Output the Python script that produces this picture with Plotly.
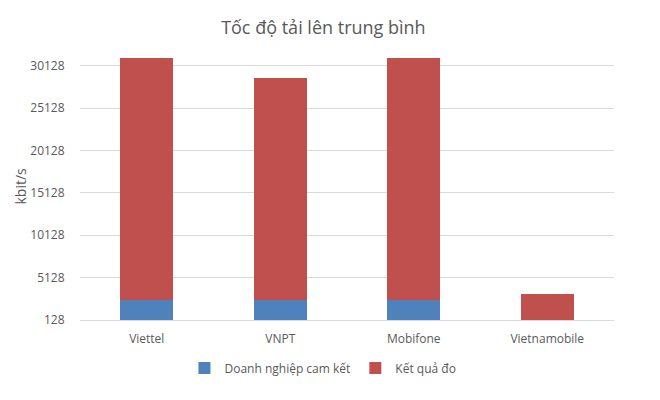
import plotly.graph_objects as go

categories = ["Viettel", "VNPT", "Mobifone", "Vietnamobile"]
committed = [2490, 2490, 2490, 0]
measured = [28580, 26150, 28580, 3200]
tick_vals = [128, 5128, 10128, 15128, 20128, 25128, 30128]

fig = go.Figure()
fig.add_trace(go.Bar(x=categories, y=committed, name="Doanh nghiệp cam kết",
                     marker=dict(color="#4F81BD", line=dict(width=0))))
fig.add_trace(go.Bar(x=categories, y=measured, name="Kết quả đo",
                     marker=dict(color="#C0504D", line=dict(width=0))))

font_fam = "Open Sans, Liberation Sans, sans-serif"
fig.update_layout(
    barmode="stack",
    bargap=0.6,
    width=660, height=400,
    margin=dict(l=80, r=46, t=53, b=80, autoexpand=False),
    plot_bgcolor="white", paper_bgcolor="white",
    font=dict(family=font_fam, color="#595959", size=12),
    title=dict(text="Tốc độ tải lên trung bình", x=0.49, xanchor="center",
               y=1 - 28 / 400, yref="container", yanchor="middle",
               font=dict(size=18, color="#595959")),
    legend=dict(orientation="h", x=0.455, xanchor="center",
                y=32 / 400, yref="container", yanchor="middle",
                traceorder="normal",
                font=dict(size=12, color="#595959"), itemwidth=30),
    showlegend=True,
    annotations=[dict(text="kbit/s", xref="paper", yref="paper",
                      x=(20 - 80) / 534, y=0.5, xanchor="center", yanchor="middle",
                      textangle=-90, showarrow=False,
                      font=dict(size=14, color="#595959"))],
)
fig.update_yaxes(range=[128, 31628], tickvals=tick_vals,
                 ticktext=[str(v) for v in tick_vals],
                 showgrid=True, gridcolor="#D9D9D9", gridwidth=1,
                 zeroline=False, showline=False,
                 ticks="outside", ticklen=12, tickcolor="rgba(0,0,0,0)",
                 automargin=False,
                 tickfont=dict(size=12, color="#595959"))
fig.update_xaxes(showline=True, linecolor="#D9D9D9", linewidth=1,
                 ticks="outside", ticklen=8, tickcolor="rgba(0,0,0,0)",
                 automargin=False,
                 tickfont=dict(size=12, color="#595959"))

fig.write_html("out.html", config={"displayModeBar": False},
               post_script="document.body.style.margin='0';")
